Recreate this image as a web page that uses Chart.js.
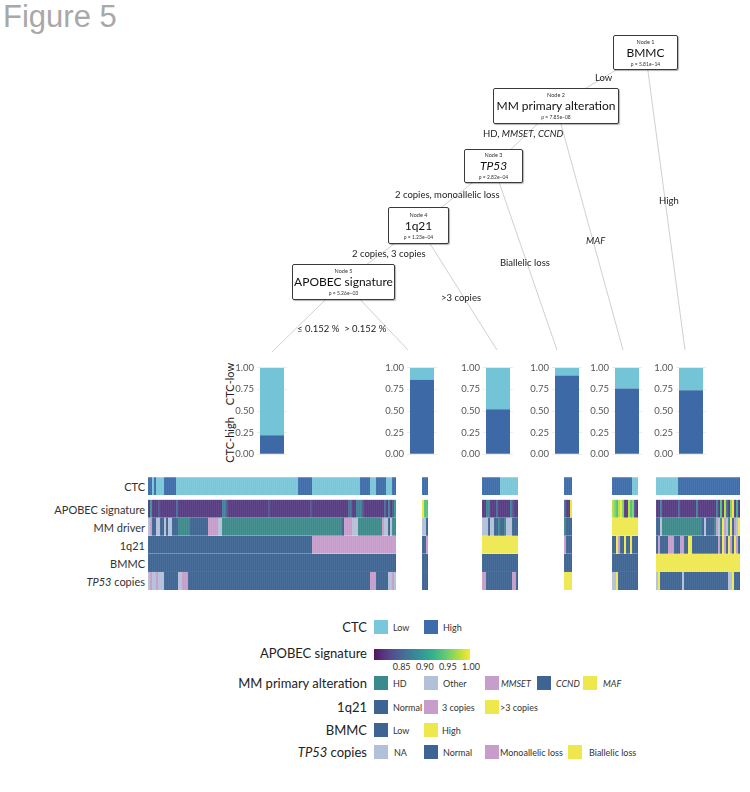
<!DOCTYPE html>
<html lang="en">
<head>
<meta charset="UTF-8">
<title>Figure 5</title>
<script src="https://cdn.jsdelivr.net/npm/chart.js"></script>
<style>
  body { margin:0; background:#fff; font-family: Lato, "Open Sans", sans-serif; color:#222; }
  #page { position:relative; width:750px; height:792px; overflow:hidden; }
  .abs { position:absolute; white-space:nowrap; }
  .title { left:3px; top:-1px; font-family:"Liberation Sans", Arial, sans-serif; font-size:31px; color:#a8a8a8; }
  .node { position:absolute; background:#fff; border:1px solid #3a3a3a; border-radius:2px; white-space:nowrap;
          box-shadow:1px 1px 1px rgba(0,0,0,.3); box-sizing:border-box; text-align:center;
          display:flex; flex-direction:column; justify-content:center; z-index:3; }
  .node .n { font-size:5.5px; line-height:6px; color:#333; }
  .node .t { font-size:12px; line-height:16px; color:#111; }
  .node .p { font-size:5px; line-height:6px; color:#333; }
  .edge { font-size:9.5px; color:#222; transform:translateY(-50%); z-index:2; }
  .rowlab { left:0; width:145px; text-align:right; font-size:11px; color:#333; transform:translateY(-50%); }
  .leglab { left:0; width:367px; text-align:right; font-size:13px; color:#222; transform:translateY(-50%); }
  .sw { width:14px; height:14px; transform:translateY(-50%); }
  .lt { font-size:9px; color:#333; transform:translateY(-50%); }
  .cbt { font-size:9px; color:#333; transform:translateX(-50%); }
  .ylab { font-size:11px; color:#222; transform:translate(-50%,-50%) rotate(-90deg); }
  canvas { position:absolute; }
</style>
</head>
<body>
<div id="page">
  <div class="abs title">Figure 5</div>
</div>
<script>
// ---- data ----
// terminal nodes of the tree, left to right
const leafNames = ['≤ 0.152 %', '> 0.152 %', '>3 copies', 'Biallelic loss', 'MAF', 'High'];
const ctcHigh = [0.22, 0.86, 0.52, 0.91, 0.76, 0.74];
const ctcLow  = [0.78, 0.14, 0.48, 0.09, 0.24, 0.26];
const propTicks = [0, 0.25, 0.5, 0.75, 1];

// heatmap, one string per terminal node, "code*count" runs
const ctcRow = [
  'H*2 L H L*4 H*6 L*61 H*7 L*24 H*5 L*3 H*5 L*3 H*2',
  'H*3', 'H*9 L*9', 'H*4', 'H*10 L*3', 'L*11 H*31'
];
// APOBEC signature level: digit d -> 0.815 + 0.02*d
const apobecRow = [
  '0 4 0*3 1 0*8 2 0*22 3*2 1 0*20 1 0*20 1 0*18 2*2 0*2 3*3 1 0*10 2 0 3 0 1 4',
  '9 6*2', '0*2 3*2 0*3 2 0*6 3 1 0*2', '2 0*2 9', '8 7 6 8 9 7 0*2 8 6 7 1 0',
  '0*2 3 0*8 2 0*8 3 0*9 3 0 6 0 8 2 0 7 9 0 5 0'
];
const mmRow = [
  'O M C*2 O*2 C*2 O C O*2 C*3 D*6 C*9 M*5 O*2 D*60 C M*4 O*3 D*12 M O*2 C O D*2',
  'O*2 C', 'O*3 C O*2 C*2 D C*2 D O*3 C*3', 'D C*3', 'F*13',
  'C*2 O D*20 C O C*4 D M O D F M O D F C M O F'
];
const q21Row = [
  'N*82 3*42', 'N*2 3', '4*18', '3 N*3', 'N*2 4 3 N*2 4 N*2 4 N*3',
  'N 3 N*4 3*3 N*3 3*2 N*2 4*2 N*13 3 N 4 3 N 4 3 N 4 3 N'
];
const bmmcRow = ['L*124', 'L*3', 'L*18', 'L*4', 'L*13', 'H*42'];
const tp53Row = [
  'A M A*2 M A*3 N*7 A*2 M*3 N*91 M*3 N*6 A*2 M A',
  'N*3', 'M*2 N*13 M*2 N', 'B*4', 'A*2 B N*10', 'A B N*11 A N*22 A*2 B N*3'
];
const apobecTicks = [0.85, 0.90, 0.95, 1.00];

// ---- colours ----
const BLUE = '#3e6493', YEL = '#efe84d', PINK = '#c69dcb', GREY = '#b3c0da';
const ctcCol  = { L: '#79c7da', H: '#3d6cab' };
const mmCol   = { D: '#3b8a8c', O: GREY, M: PINK, C: BLUE, F: YEL };
const q21Col  = { N: BLUE, '3': PINK, '4': YEL };
const bmmcCol = { L: BLUE, H: YEL };
const tp53Col = { A: GREY, N: BLUE, M: PINK, B: YEL };
const VIR = ['#440154','#482475','#414487','#355f8d','#2a788e','#21918c','#22a884','#44bf70','#7ad151','#bddf26','#fde725'];
const apoMin = 0.79, apoMax = 1.0;

function hex(h) { return [1, 3, 5].map(i => parseInt(h.substr(i, 2), 16)); }
function viridis(v) {
  let t = Math.max(0, Math.min(1, (v - apoMin) / (apoMax - apoMin)));
  const f = t * 10, i = Math.min(9, Math.floor(f)), r = f - i;
  const a = hex(VIR[i]), b = hex(VIR[i + 1]);
  const c = a.map((x, k) => Math.round((x + (b[k] - x) * r) * 0.92 + 255 * 0.08));
  return `rgb(${c[0]},${c[1]},${c[2]})`;
}
function expand(s) {
  return s.trim().split(/\s+/).flatMap(t => {
    const [c, n] = t.split('*');
    return Array(n ? +n : 1).fill(c);
  });
}

const page = document.getElementById('page');
function add(cls, html, css) {
  const d = document.createElement('div');
  d.className = cls; d.innerHTML = html; d.style.cssText = css;
  page.appendChild(d); return d;
}
function canvas(x, y, w, h, z) {
  const c = document.createElement('canvas');
  c.width = w; c.height = h;
  c.style.left = x + 'px'; c.style.top = y + 'px'; c.style.zIndex = z || 1;
  page.appendChild(c); return c;
}

// ---- tree ----
const nodes = [
  { n: 'Node 1', t: 'BMMC', p: 'p = 5.81e\u221214', box: [613, 35, 678, 70] },
  { n: 'Node 2', t: 'MM primary alteration', p: 'p = 7.85e\u221208', box: [493, 88, 619, 124] },
  { n: 'Node 3', t: '<i>TP53</i>', p: 'p = 2.82e\u221204', box: [464, 149, 523, 183] },
  { n: 'Node 4', t: '1q21', p: 'p = 1.23e\u221204', box: [388, 207, 449, 244] },
  { n: 'Node 5', t: 'APOBEC signature', p: 'p = 5.26e\u221203', box: [292, 264, 395, 300] }
];
nodes.forEach(o => {
  const [x1, y1, x2, y2] = o.box;
  add('node', `<div class="n">${o.n}</div><div class="t">${o.t}</div><div class="p">${o.p}</div>`,
      `left:${x1}px;top:${y1}px;width:${x2 - x1}px;height:${y2 - y1}px;`);
});
const leafTip = [[272, 352], [408, 350], [497, 350], [557, 350], [623, 350], [685, 350]];
const ctr = i => { const b = nodes[i].box; return [(b[0] + b[2]) / 2, (b[1] + b[3]) / 2]; };
const edges = [
  [ctr(0), ctr(1)], [ctr(0), leafTip[5]],
  [ctr(1), ctr(2)], [ctr(1), leafTip[4]],
  [ctr(2), ctr(3)], [ctr(2), leafTip[3]],
  [ctr(3), ctr(4)], [ctr(3), leafTip[2]],
  [ctr(4), leafTip[0]], [ctr(4), leafTip[1]]
];
new Chart(canvas(0, 0, 750, 792, 0), {
  type: 'scatter',
  data: { datasets: edges.map(e => ({
    data: [{ x: e[0][0], y: e[0][1] }, { x: e[1][0], y: e[1][1] }],
    showLine: true, borderColor: '#c4c4c4', borderWidth: 0.8, pointRadius: 0
  })) },
  options: {
    responsive: false, animation: false, layout: { padding: 0 },
    scales: { x: { display: false, min: 0, max: 750 }, y: { display: false, min: 0, max: 792, reverse: true } },
    plugins: { legend: { display: false }, tooltip: { enabled: false } }
  }
});
const edgeLabels = [
  ['Low', 595, 77], ['HD, <i>MMSET</i>, <i>CCND</i>', 483, 133], ['2 copies, monoallelic loss', 395, 194],
  ['2 copies, 3 copies', 352, 253], [leafNames[0] + '&nbsp;&nbsp;' + leafNames[1], 297, 328],
  [leafNames[5], 659, 200], ['<i>' + leafNames[4] + '</i>', 586, 240], [leafNames[3], 500, 262],
  [leafNames[2], 441, 297]
];
edgeLabels.forEach(l => add('abs edge', l[0], `left:${l[1]}px;top:${l[2]}px;`));

// ---- proportion bars ----
const barCenters = [272, 422, 498, 567, 627, 691];
barCenters.forEach((cx, i) => {
  new Chart(canvas(cx - 49, 359, 64, 104, 1), {
    type: 'bar',
    data: { labels: [leafNames[i]], datasets: [
      { label: 'CTC-high', data: [ctcHigh[i]], backgroundColor: '#3d6aa7' },
      { label: 'CTC-low', data: [ctcLow[i]], backgroundColor: '#74c4d8' }
    ] },
    options: {
      responsive: false, animation: false,
      layout: { padding: { top: 6, bottom: 4, left: 0, right: 0 } },
      datasets: { bar: { barPercentage: 0.8, categoryPercentage: 1 } },
      scales: {
        x: { display: false, stacked: true },
        y: { stacked: true, min: 0, max: 1,
             afterFit: s => { s.width = 34; },
             afterBuildTicks: s => { s.ticks = propTicks.map(v => ({ value: v })); },
             ticks: { callback: v => v.toFixed(2), color: '#555', padding: 3, font: { size: 9.5, family: 'Lato' } },
             grid: { color: '#ececec', drawTicks: false }, border: { display: false } }
      },
      plugins: { legend: { display: false }, tooltip: { enabled: false } }
    }
  });
});
add('abs ylab', 'CTC-low', 'left:229px;top:384px;');
add('abs ylab', 'CTC-high', 'left:229px;top:440px;');

// ---- heatmap ----
const groupStart = [0, 137, 167, 208, 232, 254];
const nCols = 296;
function layoutRow(groups) {
  const out = Array(nCols).fill(null);
  groups.forEach((g, k) => expand(g).forEach((c, j) => { out[groupStart[k] + j] = c; }));
  return out;
}
const rows = [
  { codes: layoutRow(tp53Row), col: c => tp53Col[c] },
  { codes: layoutRow(bmmcRow), col: c => bmmcCol[c] },
  { codes: layoutRow(q21Row), col: c => q21Col[c] },
  { codes: layoutRow(mmRow), col: c => mmCol[c] },
  { codes: layoutRow(apobecRow), col: c => viridis(0.815 + 0.02 * +c) },
  { gap: true },
  { codes: layoutRow(ctcRow), col: c => ctcCol[c] }
];
const heatDatasets = rows.map(r => r.gap
  ? { data: Array(nCols).fill(0.25), backgroundColor: 'rgba(0,0,0,0)', borderWidth: 0 }
  : { data: r.codes.map(c => c == null ? null : 1),
      backgroundColor: r.codes.map(c => c == null ? 'rgba(0,0,0,0)' : r.col(c)),
      borderColor: 'rgba(255,255,255,0.16)', borderWidth: { top: 0.5, left: 0.4, right: 0, bottom: 0 },
      borderSkipped: false });
new Chart(canvas(148, 477, 592, 113, 1), {
  type: 'bar',
  data: { labels: Array.from({ length: nCols }, (_, i) => i), datasets: heatDatasets },
  options: {
    responsive: false, animation: false, layout: { padding: 0 },
    datasets: { bar: { barPercentage: 1, categoryPercentage: 1 } },
    scales: { x: { display: false, stacked: true }, y: { display: false, stacked: true, min: 0, max: 6.25 } },
    plugins: { legend: { display: false }, tooltip: { enabled: false } }
  }
});
[['CTC', 486], ['APOBEC signature', 508.6], ['MM driver', 526.7], ['1q21', 544.8], ['BMMC', 562.9], ['<i>TP53</i> copies', 581]]
  .forEach(r => add('abs rowlab', r[0], `top:${r[1]}px;`));

// ---- legend ----
function legRow(label, y, items) {
  add('abs leglab', label, `top:${y}px;`);
  items.forEach(it => {
    add('abs sw', '', `left:${it[2]}px;top:${y}px;background:${it[1]};`);
    add('abs lt', it[0], `left:${it[3]}px;top:${y}px;`);
  });
}
legRow('CTC', 627, [['Low', ctcCol.L, 374, 393], ['High', ctcCol.H, 424, 443]]);
legRow('MM primary alteration', 683, [['HD', mmCol.D, 374, 393], ['Other', mmCol.O, 424, 443],
  ['<i>MMSET</i>', mmCol.M, 485, 501], ['<i>CCND</i>', mmCol.C, 537, 556], ['<i>MAF</i>', mmCol.F, 583, 603]]);
legRow('1q21', 707, [['Normal', q21Col.N, 374, 393], ['3 copies', q21Col['3'], 424, 442], ['>3 copies', q21Col['4'], 485, 500]]);
legRow('BMMC', 730, [['Low', bmmcCol.L, 374, 393], ['High', bmmcCol.H, 424, 442]]);
legRow('<i>TP53</i> copies', 752, [['NA', tp53Col.A, 374, 394], ['Normal', tp53Col.N, 424, 443],
  ['Monoallelic loss', tp53Col.M, 485, 500], ['Biallelic loss', tp53Col.B, 568, 589]]);

// colour bar for the APOBEC signature
add('abs leglab', 'APOBEC signature', 'top:653px;');
const cbX = 374, cbW = 96, pxPer = 97 / (apoMax - apoMin);
const stops = Array.from({ length: 21 }, (_, k) => viridis(apoMin + (cbW / pxPer) * k / 20) + ' ' + (k * 5) + '%');
add('abs', '', `left:${cbX}px;top:649px;width:${cbW}px;height:11px;background:linear-gradient(to right,${stops.join(',')});`);
apobecTicks.forEach(v => {
  const x = cbX + (v - apoMin) * pxPer;
  add('abs cbt', v.toFixed(2), `left:${x}px;top:661px;`);
});
</script>
</body>
</html>
